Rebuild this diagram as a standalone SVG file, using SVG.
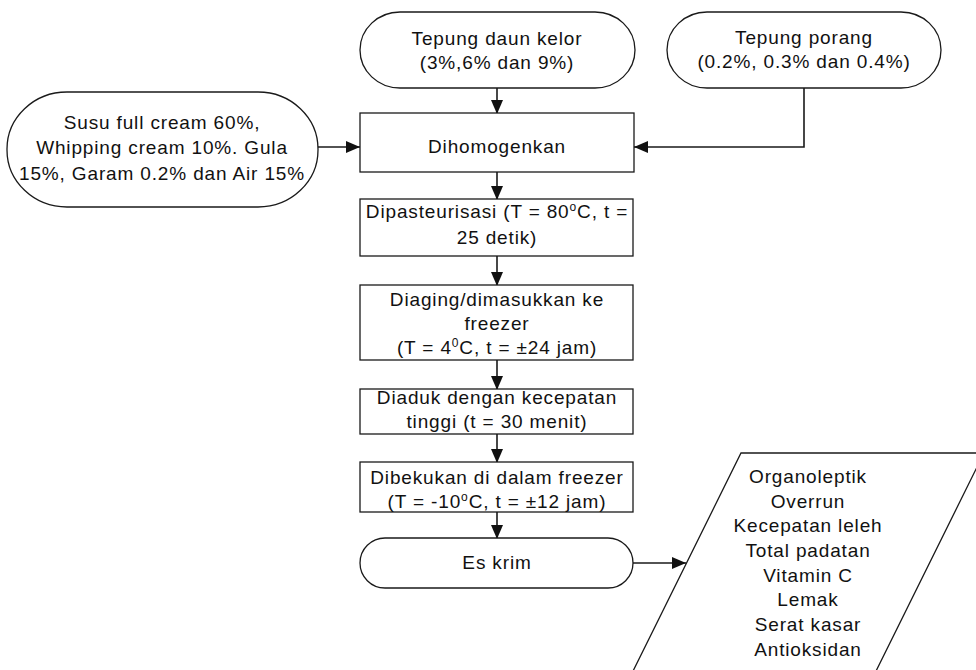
<svg xmlns="http://www.w3.org/2000/svg" width="976" height="670" viewBox="0 0 976 670">
<style>
.s{fill:#fff;stroke:#1a1a1a;stroke-width:1.3}
.t{font-family:"Liberation Sans",Arial,sans-serif;font-size:19px;fill:#111;text-anchor:middle;letter-spacing:0.85px}
.c{fill:none;stroke:#1a1a1a;stroke-width:1.6}
.sup{font-size:12px}
</style>
<defs>
<marker id="ah" viewBox="0 0 14 12" refX="14" refY="6" markerWidth="14" markerHeight="12" markerUnits="userSpaceOnUse" orient="auto">
<path d="M0,0 L14,6 L0,12 z" fill="#111"/>
</marker>
</defs>
<rect width="976" height="670" fill="#fff"/>
<g id="connectors">
<line class="c" x1="497" y1="88" x2="497" y2="114" marker-end="url(#ah)"/>
<polyline class="c" points="804,88 804,147 634,147" marker-end="url(#ah)"/>
<line class="c" x1="318" y1="147" x2="360" y2="147" marker-end="url(#ah)"/>
<line class="c" x1="497" y1="172" x2="497" y2="200" marker-end="url(#ah)"/>
<line class="c" x1="497" y1="256" x2="497" y2="286" marker-end="url(#ah)"/>
<line class="c" x1="497" y1="360" x2="497" y2="390" marker-end="url(#ah)"/>
<line class="c" x1="497" y1="434" x2="497" y2="463" marker-end="url(#ah)"/>
<line class="c" x1="497" y1="512" x2="497" y2="539" marker-end="url(#ah)"/>
<line class="c" x1="633" y1="563" x2="686" y2="563" marker-end="url(#ah)"/>
</g>
<g id="kelor">
<rect class="s" x="360" y="12" width="275" height="76" rx="40" ry="38"/>
<text class="t" x="497" y="45">Tepung daun kelor</text>
<text class="t" x="497" y="69">(3%,6% dan 9%)</text>
</g>
<g id="porang">
<rect class="s" x="667" y="12" width="274" height="76" rx="40" ry="38"/>
<text class="t" x="804" y="44">Tepung porang</text>
<text class="t" x="804" y="68">(0.2%, 0.3% dan 0.4%)</text>
</g>
<g id="susu">
<rect class="s" x="7" y="92" width="311" height="115" rx="60" ry="57"/>
<text class="t" x="162" y="129">Susu full cream 60%,</text>
<text class="t" x="162" y="154">Whipping cream 10%. Gula</text>
<text class="t" x="162" y="180">15%, Garam 0.2% dan Air 15%</text>
</g>
<g id="homogen">
<rect class="s" x="360" y="113" width="274" height="59"/>
<text class="t" x="497" y="153">Dihomogenkan</text>
</g>
<g id="pasteur">
<rect class="s" x="360" y="199" width="273" height="57"/>
<text class="t" x="497" y="218">Dipasteurisasi (T = 80<tspan class="sup" dy="-7">o</tspan><tspan dy="7">C, t =</tspan></text>
<text class="t" x="497" y="244">25 detik)</text>
</g>
<g id="aging">
<rect class="s" x="360" y="285" width="273" height="75"/>
<text class="t" x="497" y="306">Diaging/dimasukkan ke</text>
<text class="t" x="497" y="330">freezer</text>
<text class="t" x="497" y="354">(T = 4<tspan class="sup" dy="-7">0</tspan><tspan dy="7">C, t = ±24 jam)</tspan></text>
</g>
<g id="aduk">
<rect class="s" x="360" y="389" width="273" height="45"/>
<text class="t" x="497" y="404">Diaduk dengan kecepatan</text>
<text class="t" x="497" y="428">tinggi (t = 30 menit)</text>
</g>
<g id="beku">
<rect class="s" x="360" y="462" width="273" height="50"/>
<text class="t" x="497" y="484">Dibekukan di dalam freezer</text>
<text class="t" x="497" y="508">(T = -10<tspan class="sup" dy="-7">o</tspan><tspan dy="7">C, t = ±12 jam)</tspan></text>
</g>
<g id="eskrim">
<rect class="s" x="360" y="538" width="273" height="50" rx="25" ry="25"/>
<text class="t" x="497" y="569">Es krim</text>
</g>
<g id="analisis">
<polygon class="s" points="741,453 984,453 871.6,680 628.6,680"/>
<text class="t" x="808" y="483">Organoleptik</text>
<text class="t" x="808" y="508">Overrun</text>
<text class="t" x="808" y="532">Kecepatan leleh</text>
<text class="t" x="808" y="557">Total padatan</text>
<text class="t" x="808" y="582">Vitamin C</text>
<text class="t" x="808" y="606">Lemak</text>
<text class="t" x="808" y="631">Serat kasar</text>
<text class="t" x="808" y="656">Antioksidan</text>
</g>
</svg>
